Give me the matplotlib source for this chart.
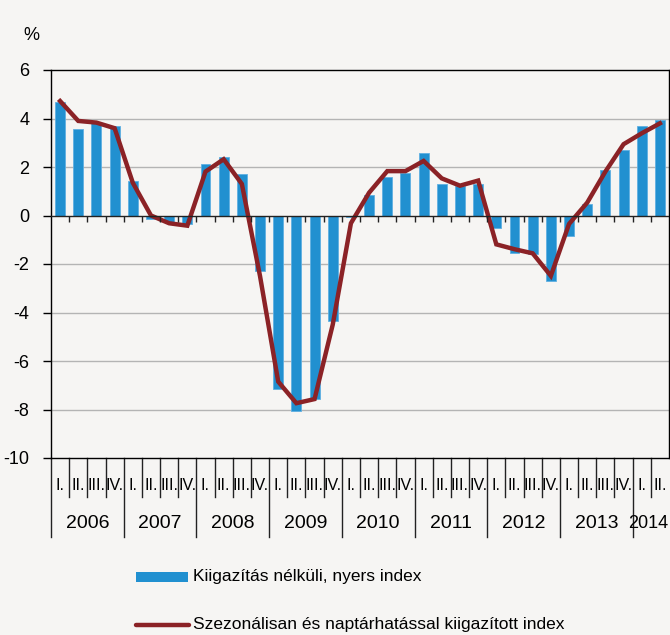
import matplotlib
matplotlib.use('Agg')
import matplotlib.pyplot as plt
from matplotlib.transforms import blended_transform_factory
from matplotlib.patches import Rectangle
from matplotlib.lines import Line2D

plt.rcParams['font.family'] = ['Liberation Sans Narrow', 'Liberation Sans', 'DejaVu Sans']

# data: quarterly index 2006 Q1 - 2014 Q2 (%)
years = ['2006', '2007', '2008', '2009', '2010', '2011', '2012', '2013', '2014']
quarters = ['I.', 'II.', 'III.', 'IV.']
raw_index = [4.7, 3.55, 3.8, 3.7, 1.42, -0.16, -0.26, -0.35,
             2.12, 2.42, 1.71, -2.28, -7.17, -8.05, -7.58, -4.34,
             -0.08, 0.85, 1.57, 1.74, 2.56, 1.29, 1.22, 1.3,
             -0.53, -1.56, -1.6, -2.69, -0.85, 0.47, 1.88, 2.7,
             3.7, 3.94]
adj_index = [4.72, 3.9, 3.83, 3.6, 1.35, 0.0, -0.32, -0.42,
             1.81, 2.32, 1.3, -2.5, -6.85, -7.74, -7.57, -4.5,
             -0.32, 0.94, 1.83, 1.83, 2.25, 1.53, 1.23, 1.44,
             -1.19, -1.39, -1.56, -2.49, -0.35, 0.53, 1.81, 2.94,
             3.39, 3.8]
labels_raw = 'Kiigazítás nélküli, nyers index'
labels_adj = 'Szezonálisan és naptárhatással kiigazított index'

bar_color = '#2190d0'
line_color = '#8b2226'
bg = '#f6f5f3'

W, H = 670, 635
fig = plt.figure(figsize=(W / 100, H / 100), dpi=100, facecolor=bg)
ax = fig.add_axes([51 / W, 1 - 458 / H, 618 / W, 388 / H])
ax.set_facecolor(bg)

n = len(raw_index)
x = [i + 0.5 for i in range(n)]

ax.bar(x, raw_index, width=0.55, color=bar_color, edgecolor='#5fb0e2', linewidth=0.6, zorder=2)
ax.plot(x, adj_index, color=line_color, linewidth=3.2, solid_joinstyle='miter', zorder=3)

ax.set_xlim(0, n)
ax.set_ylim(-10, 6)
ax.set_yticks(range(-10, 7, 2))
ax.set_yticklabels([str(v) for v in range(-10, 7, 2)])
ax.tick_params(axis='y', length=6, width=1, direction='out', pad=9.5, labelsize=13)
ax.set_xticks([])

for v in [-8, -6, -4, -2, 2, 4]:
    ax.axhline(v, color='#b4b4b4', linewidth=1, zorder=1)
ax.axhline(0, color='#222222', linewidth=1, zorder=4)
# small ticks on the zero line
ax.vlines(range(1, n), -0.27, 0, color='#222222', linewidth=1, zorder=4)

for s in ax.spines.values():
    s.set_color('black')
    s.set_linewidth(1)

fig.text(31 / W, 1 - 35 / H, '%', ha='center', va='center', fontsize=13)

# category axis below the plot
tr = blended_transform_factory(ax.transData, fig.transFigure)
for i in range(n):
    q = i % 4
    ax.text(i + 0.5, 1 - 486 / H, quarters[q], transform=tr, ha='center', va='center',
            fontsize=11.5, clip_on=False)
    if q != 0:
        ax.add_line(Line2D([i, i], [1 - 458 / H, 1 - 497 / H], transform=tr,
                           color='#222222', linewidth=1, clip_on=False))
for k, yr in enumerate(years):
    start = 4 * k
    end = min(4 * k + 4, n)
    ax.add_line(Line2D([start, start], [1 - 458 / H, 1 - 537 / H], transform=tr,
                       color='#222222', linewidth=1, clip_on=False))
    if end - start < 4:
        # last, partial year: squeeze the label against the right edge
        ax.text(n - 0.05, 1 - 523 / H, yr, transform=tr, ha='right', va='center',
                fontsize=13, clip_on=False)
    else:
        ax.text((start + end) / 2, 1 - 523 / H, yr, transform=tr, ha='center', va='center',
                fontsize=14, clip_on=False)

# legend
fig.add_artist(Rectangle((136 / W, 1 - 582 / H), 52 / W, 10 / H, transform=fig.transFigure,
                         facecolor=bar_color, edgecolor='none'))
fig.text(193 / W, 1 - 577 / H, labels_raw, ha='left', va='center', fontsize=12.5)
fig.add_artist(Line2D([136 / W, 189 / W], [1 - 625 / H, 1 - 625 / H], transform=fig.transFigure,
                      color=line_color, linewidth=3.2, solid_capstyle='round'))
fig.text(193 / W, 1 - 625 / H, labels_adj, ha='left', va='center', fontsize=12.5)

fig.savefig('out.png', dpi=100, facecolor=bg)
